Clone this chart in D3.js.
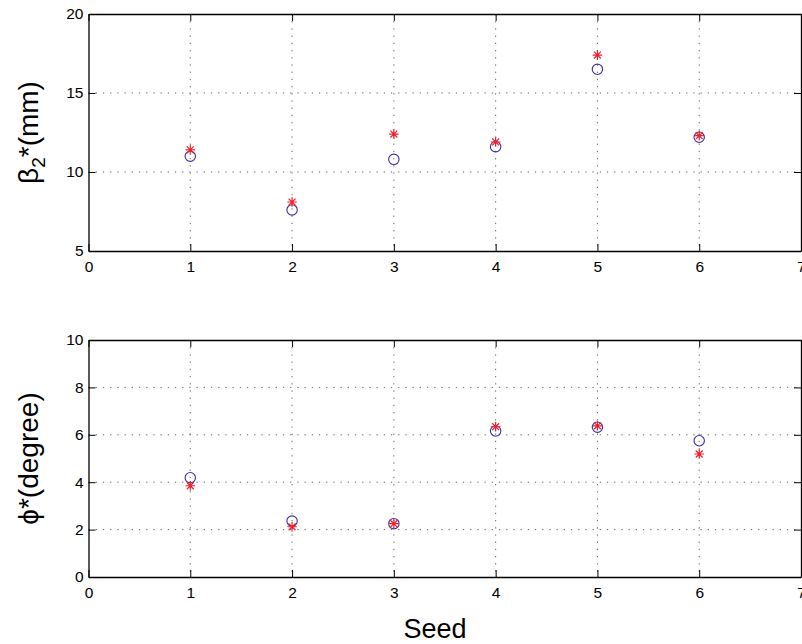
<!DOCTYPE html>
<html>
<head>
<meta charset="utf-8">
<script src="https://cdn.jsdelivr.net/npm/d3@7"></script>
<style>
  body { margin: 0; background: #fff; }
  text { font-family: "Liberation Sans", Arial, sans-serif; fill: #000; }
</style>
</head>
<body>
<div id="chart"></div>
<script>
const seeds = [1, 2, 3, 4, 5, 6];
// top panel: beta2* (mm)
const betaCircle = [11.0, 7.6, 10.8, 11.6, 16.5, 12.2];
const betaStar = [11.4, 8.1, 12.4, 11.9, 17.4, 12.3];
// bottom panel: phi* (degree)
const phiCircle = [4.19, 2.36, 2.25, 6.16, 6.32, 5.75];
const phiStar = [3.85, 2.12, 2.25, 6.34, 6.38, 5.19];
const xTicks = [0, 1, 2, 3, 4, 5, 6, 7];
const betaTicks = [5, 10, 15, 20];
const phiTicks = [0, 2, 4, 6, 8, 10];

const width = 802, height = 644;
const svg = d3.select('#chart').append('svg')
  .attr('width', width)
  .attr('height', height);

const x = d3.scaleLinear().domain([0, 7]).range([88.5, 801]);

const starPath = r => {
  const d = r * 0.72;
  return `M${-r},0L${r},0M0,${-r}L0,${r}M${-d},${-d}L${d},${d}M${-d},${d}L${d},${-d}`;
};

function panel(top, bottom, domain, ticks, circles, stars, label, labelX) {
  const y = d3.scaleLinear().domain(domain).range([bottom, top]);
  const g = svg.append('g');

  // dotted grid
  g.selectAll('.vgrid').data(xTicks.slice(1, -1)).enter().append('line')
    .attr('x1', d => x(d)).attr('x2', d => x(d))
    .attr('y1', top).attr('y2', bottom)
    .attr('stroke', '#666').attr('stroke-width', 1)
    .attr('stroke-dasharray', '1.3,5.9');
  g.selectAll('.hgrid').data(ticks.slice(1, -1)).enter().append('line')
    .attr('x1', x.range()[0]).attr('x2', x.range()[1])
    .attr('y1', d => y(d)).attr('y2', d => y(d))
    .attr('stroke', '#666').attr('stroke-width', 1)
    .attr('stroke-dasharray', '1.3,5.9');

  // axes with inward ticks
  const tick = 7;
  g.append('g').attr('transform', `translate(0,${bottom})`)
    .call(d3.axisBottom(x).tickValues(xTicks).tickSizeInner(-tick).tickSizeOuter(0).tickPadding(9.5).tickFormat(d3.format('d')));
  g.append('g').attr('transform', `translate(0,${top})`)
    .call(d3.axisTop(x).tickValues(xTicks).tickSizeInner(-tick).tickSizeOuter(0).tickFormat(''));
  g.append('g').attr('transform', `translate(${x.range()[0]},0)`)
    .call(d3.axisLeft(y).tickValues(ticks).tickSizeInner(-tick).tickSizeOuter(0).tickPadding(5).tickFormat(d3.format('d')));
  g.append('g').attr('transform', `translate(${x.range()[1]},0)`)
    .call(d3.axisRight(y).tickValues(ticks).tickSizeInner(-tick).tickSizeOuter(0).tickFormat(''));
  g.selectAll('.domain').attr('stroke', '#000').attr('stroke-width', 1.3);
  g.selectAll('.tick line').attr('stroke', '#000');
  g.selectAll('.tick text').style('font-size', '15.5px')
    .style('font-family', '"Liberation Sans", Arial, sans-serif').attr('fill', '#000');

  // markers
  g.selectAll('.circ').data(seeds).enter().append('circle')
    .attr('cx', d => x(d)).attr('cy', (d, i) => y(circles[i]))
    .attr('r', 5.2).attr('fill', 'none')
    .attr('stroke', '#3c2fa0').attr('stroke-width', 1.1);
  g.selectAll('.star').data(seeds).enter().append('path')
    .attr('transform', (d, i) => `translate(${x(d)},${y(stars[i])})`)
    .attr('d', starPath(4.8))
    .attr('stroke', '#f0202a').attr('stroke-width', 1.2);

  // y label
  g.append('text')
    .attr('transform', `translate(${labelX},${(top + bottom) / 2}) rotate(-90)`)
    .attr('text-anchor', 'middle')
    .style('font-size', '28px')
    .call(label);
}

panel(14, 251, [5, 20], betaTicks, betaCircle, betaStar, t => {
  t.append('tspan').text('β');
  t.append('tspan').attr('dy', 7).style('font-size', '19px').text('2');
  t.append('tspan').attr('dy', -7).text('*(mm)');
}, 37.5);

panel(340, 577, [0, 10], phiTicks, phiCircle, phiStar, t => {
  t.text('ϕ*(degree)');
}, 38);

svg.append('text')
  .attr('x', 435).attr('y', 638)
  .attr('text-anchor', 'middle')
  .style('font-size', '27px')
  .text('Seed');
</script>
</body>
</html>
